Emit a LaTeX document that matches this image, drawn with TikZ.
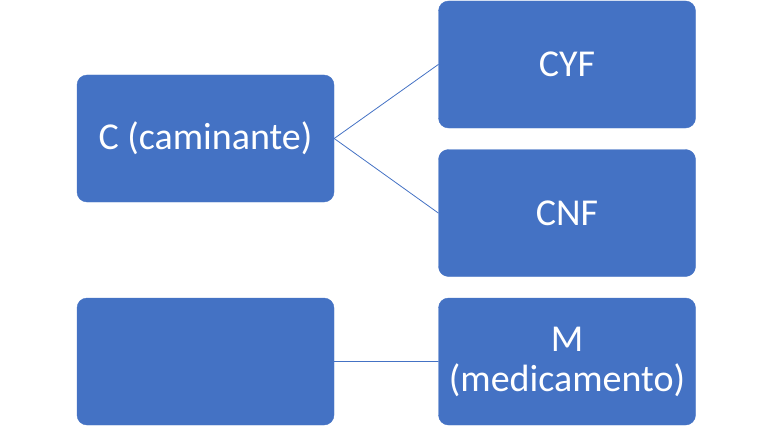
\documentclass[tikz,border=0pt]{standalone}
\usepackage{fontspec}
\setmainfont{Carlito}
\definecolor{boxblue}{HTML}{4472C4}
\tikzset{
  itembox/.style={draw=boxblue,fill=boxblue,rounded corners=10pt,minimum width=257pt,minimum height=127pt,
    text=white,align=center,inner sep=0pt,font=\fontsize{38}{40}\selectfont},
  link/.style={draw=boxblue,line width=0.8pt}
}
\begin{document}
\begin{tikzpicture}[line cap=round,line join=round,x=1pt,y=-1pt]
				\useasboundingbox (0,0) rectangle (771,428);
				\node[itembox] (walker) at (205.5,138.5) {C (caminante)};
				\node[itembox] (cyf) at (567,64.5) {CYF};
				\node[itembox] (cnf) at (567,213) {CNF};
				\node[itembox] (blank) at (205.5,361.5) {};
				\node[itembox] (drug) at (567,361.5) {M\\(medicamento)};
				\draw [link] (walker.east)-- (cyf.west);
				\draw [link] (walker.east)-- (cnf.west);
				\draw [link] (blank.east)-- (drug.west);
			\end{tikzpicture}
\end{document}
